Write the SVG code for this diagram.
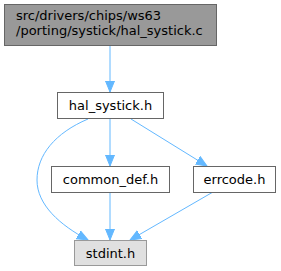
<svg xmlns="http://www.w3.org/2000/svg" width="281" height="271" viewBox="0 0 281 271">
<style>
.n rect{fill:#ffffff;stroke:#666666;stroke-width:1}
text{font-family:"DejaVu Sans",sans-serif;font-size:13px;fill:#000000}
.e{fill:none;stroke:#63b8ff;stroke-width:1}
</style>
<defs>
<marker id="ah" markerWidth="12" markerHeight="12" refX="11" refY="6" orient="auto" markerUnits="userSpaceOnUse">
<path d="M0,1.5 L11,6 L0,10.5 Z" fill="#63b8ff" stroke="#63b8ff"/>
</marker>
</defs>
<rect width="281" height="271" fill="#ffffff"/>
<g id="edges">
<path class="e" d="M110,45 L110,92" marker-end="url(#ah)"/>
<path class="e" d="M110,119 L110,166" marker-end="url(#ah)"/>
<path class="e" d="M131,119 L207,166" marker-end="url(#ah)"/>
<path class="e" d="M88,119 C55,133 37,155 37,180 C37,205 60,225 88,240" marker-end="url(#ah)"/>
<path class="e" d="M110,192 L110,240" marker-end="url(#ah)"/>
<path class="e" d="M213,192 L130,240" marker-end="url(#ah)"/>
</g>
<g id="node_hal_systick_c" class="n">
<rect x="4.5" y="4.5" width="212" height="41" style="fill:#999999;stroke:#666666"/>
<text x="16" y="20">src/drivers/chips/ws63</text>
<text x="16" y="35">/porting/systick/hal_systick.c</text>
</g>
<g id="node_hal_systick_h" class="n">
<rect x="57.5" y="92.5" width="106" height="26"/>
<text x="110.5" y="110" text-anchor="middle">hal_systick.h</text>
</g>
<g id="node_common_def_h" class="n">
<rect x="51.5" y="166.5" width="118" height="26"/>
<text x="110.5" y="184" text-anchor="middle">common_def.h</text>
</g>
<g id="node_errcode_h" class="n">
<rect x="193.5" y="166.5" width="82" height="26"/>
<text x="234.5" y="184" text-anchor="middle">errcode.h</text>
</g>
<g id="node_stdint_h" class="n">
<rect x="74.5" y="240.5" width="72" height="25" style="fill:#e0e0e0;stroke:#999999"/>
<text x="110.5" y="257.5" text-anchor="middle">stdint.h</text>
</g>
</svg>
